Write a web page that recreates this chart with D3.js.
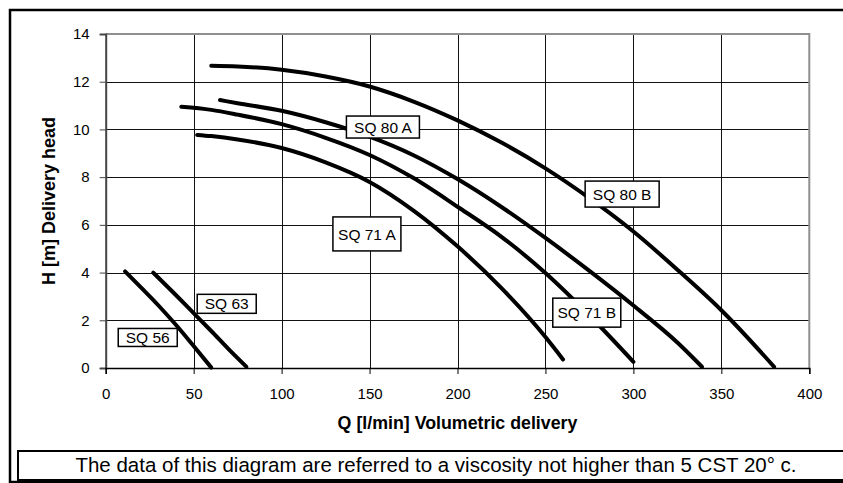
<!DOCTYPE html>
<html>
<head>
<meta charset="utf-8">
<script src="https://cdn.jsdelivr.net/npm/d3@7/dist/d3.min.js"></script>
<style>
  html, body { margin: 0; padding: 0; background: #fff; }
  svg { display: block; font-family: "Liberation Sans", Arial, Helvetica, sans-serif; }
</style>
</head>
<body>
<svg id="chart" width="843" height="483"></svg>
<script>
// ---------- data ----------
const xTicks = [0, 50, 100, 150, 200, 250, 300, 350, 400];
const yTicks = [0, 2, 4, 6, 8, 10, 12, 14];

const seriesNames = ["SQ 56", "SQ 63", "SQ 71 A", "SQ 71 B", "SQ 80 A", "SQ 80 B"];

const sq56Q = [11, 20, 30, 40, 50, 60];
const sq56H = [4.05, 3.38, 2.62, 1.8, 0.92, 0.02];

const sq63Q = [27, 40, 50, 60, 70, 80];
const sq63H = [4.0, 3.05, 2.3, 1.55, 0.78, 0.05];

const sq71aQ = [52, 60, 75, 100, 125, 150, 175, 200, 225, 250, 260];
const sq71aH = [9.77, 9.72, 9.58, 9.22, 8.62, 7.8, 6.6, 5.1, 3.35, 1.3, 0.36];

const sq71bQ = [43, 60, 75, 100, 125, 150, 175, 200, 225, 250, 275, 300];
const sq71bH = [10.95, 10.82, 10.62, 10.22, 9.65, 8.93, 7.96, 6.76, 5.5, 3.98, 2.2, 0.26];

const sq80aQ = [65, 75, 100, 125, 150, 175, 200, 225, 250, 275, 300, 325, 339];
const sq80aH = [11.23, 11.1, 10.78, 10.3, 9.7, 8.92, 7.92, 6.75, 5.45, 4.07, 2.62, 1.07, 0.05];

const sq80bQ = [60, 75, 100, 125, 150, 175, 200, 225, 250, 275, 300, 325, 350, 380];
const sq80bH = [12.67, 12.64, 12.5, 12.22, 11.8, 11.17, 10.38, 9.45, 8.37, 7.12, 5.72, 4.12, 2.42, 0.05];

// label anchor points (data units)
const labelQ = [23.9, 68.8, 148.5, 273.5, 157.6, 293.6];
const labelH = [1.28, 2.69, 5.62, 2.32, 10.1, 7.29];

const xTitle = "Q [l/min] Volumetric delivery";
const yTitle = "H [m] Delivery head";
const footNote = "The data of this diagram are referred to a viscosity not higher than 5 CST 20° c.";

// ---------- layout / style ----------
const labelBoxW = [59, 59, 68, 68, 73, 74];
const labelBoxH = [18, 19, 34, 29, 22, 26];

const svg = d3.select("#chart");
const x = d3.scaleLinear().domain([0, 400]).range([105.7, 809.3]);
const y = d3.scaleLinear().domain([0, 14]).range([368, 34]);

// outer frame
svg.append("rect").attr("x", 10).attr("y", 10).attr("width", 845).attr("height", 472)
  .attr("fill", "none").attr("stroke", "#000").attr("stroke-width", 2.5);

// gridlines
const grid = svg.append("g");
grid.selectAll("line.h").data(yTicks.filter(v => v > 0 && v < 14)).join("line")
  .attr("x1", x(0)).attr("x2", x(400))
  .attr("y1", d => Math.round(y(d)) + 0.5).attr("y2", d => Math.round(y(d)) + 0.5)
  .attr("stroke", "#111").attr("stroke-width", 1);
grid.selectAll("line.v").data(xTicks.filter(v => v > 0 && v < 400)).join("line")
  .attr("y1", y(0)).attr("y2", y(14))
  .attr("x1", d => Math.round(x(d)) + 0.5).attr("x2", d => Math.round(x(d)) + 0.5)
  .attr("stroke", "#111").attr("stroke-width", 1);

// plot frame top/right (gray)
svg.append("path")
  .attr("d", `M${x(0)},${y(14)}H${x(400)}V${y(0)}`)
  .attr("fill", "none").attr("stroke", "#8f8f8f").attr("stroke-width", 2);

// axes
const fontSize = 15;
const yAxis = svg.append("g").attr("transform", `translate(${x(0)},0)`)
  .call(d3.axisLeft(y).tickValues(yTicks).tickSize(6).tickPadding(10).tickFormat(d3.format("d")));
yAxis.select(".domain").attr("stroke", "#444").attr("stroke-width", 2);
yAxis.selectAll(".tick line").attr("stroke", "#444").attr("stroke-width", 1);
yAxis.selectAll("text").attr("font-size", fontSize).attr("fill", "#000")
  .attr("font-family", "'Liberation Sans', Arial, sans-serif");

const xAxis = svg.append("g").attr("transform", `translate(0,${y(0)})`)
  .call(d3.axisBottom(x).tickValues(xTicks).tickSize(6).tickPadding(14).tickFormat(d3.format("d")));
xAxis.select(".domain").attr("stroke", "#000").attr("stroke-width", 1.5);
xAxis.selectAll(".tick line").attr("stroke", "#000").attr("stroke-width", 1);
xAxis.selectAll("text").attr("font-size", fontSize).attr("fill", "#000")
  .attr("font-family", "'Liberation Sans', Arial, sans-serif");

// curves
const allQ = [sq56Q, sq63Q, sq71aQ, sq71bQ, sq80aQ, sq80bQ];
const allH = [sq56H, sq63H, sq71aH, sq71bH, sq80aH, sq80bH];
const line = d3.line().x(d => x(d[0])).y(d => y(d[1])).curve(d3.curveMonotoneX);
const series = seriesNames.map((n, i) => ({ name: n, pts: allQ[i].map((q, j) => [q, allH[i][j]]) }));
svg.append("g").selectAll("path").data(series).join("path")
  .attr("d", d => line(d.pts))
  .attr("fill", "none").attr("stroke", "#000").attr("stroke-width", 4)
  .attr("stroke-linecap", "round").attr("stroke-linejoin", "round");

// labels
const labels = svg.append("g").selectAll("g").data(seriesNames).join("g")
  .attr("transform", (d, i) => `translate(${x(labelQ[i])},${y(labelH[i])})`);
labels.append("rect")
  .attr("x", (d, i) => -labelBoxW[i] / 2).attr("y", (d, i) => -labelBoxH[i] / 2)
  .attr("width", (d, i) => labelBoxW[i]).attr("height", (d, i) => labelBoxH[i])
  .attr("fill", "#fff").attr("stroke", "#000").attr("stroke-width", 1.5);
labels.append("text").text(d => d)
  .attr("text-anchor", "middle").attr("dy", "0.36em")
  .attr("font-size", 15.5).attr("fill", "#000");

// axis titles
svg.append("text").text(xTitle)
  .attr("x", (x(0) + x(400)) / 2).attr("y", 429)
  .attr("text-anchor", "middle").attr("font-weight", "bold").attr("font-size", 17.8);
svg.append("text").text(yTitle)
  .attr("transform", `translate(55,${(y(0) + y(14)) / 2}) rotate(-90)`)
  .attr("text-anchor", "middle").attr("font-weight", "bold").attr("font-size", 18);

// footnote box
svg.append("rect").attr("x", 18).attr("y", 451).attr("width", 840).attr("height", 29)
  .attr("fill", "#fff").attr("stroke", "#000").attr("stroke-width", 2);
svg.append("text").text(footNote)
  .attr("x", 436).attr("y", 471.5)
  .attr("text-anchor", "middle").attr("font-size", 20.5);
</script>
</body>
</html>
